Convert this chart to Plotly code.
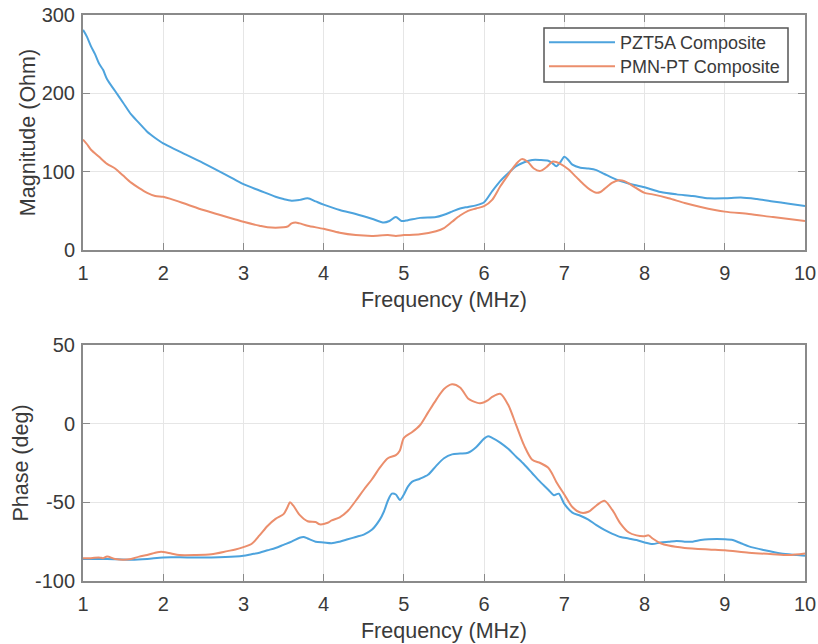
import plotly.graph_objects as go

# ---- Impedance magnitude (Ohm) ----
mag_pzt_f = [1.0, 1.05, 1.1, 1.15, 1.2, 1.25, 1.3, 1.4, 1.5, 1.6, 1.7, 1.8, 1.9, 2.0, 2.2, 2.5, 2.8,
             3.0, 3.2, 3.4, 3.5, 3.6, 3.7, 3.8, 3.9, 4.0, 4.2, 4.4, 4.6, 4.75, 4.82, 4.9, 4.97, 5.05,
             5.2, 5.4, 5.5, 5.6, 5.7, 5.8, 5.9, 6.0, 6.1, 6.2, 6.3, 6.4, 6.5, 6.6, 6.7, 6.8, 6.85,
             6.9, 6.95, 7.0, 7.05, 7.1, 7.2, 7.3, 7.4, 7.5, 7.6, 7.7, 7.8, 8.0, 8.2, 8.4, 8.6, 8.8,
             9.0, 9.2, 9.4, 9.6, 9.8, 10.0]
mag_pzt = [281, 272, 260, 250, 238, 230, 218, 203, 188, 173, 162, 151, 143, 136, 126, 111, 95,
           84, 76, 68, 65, 63, 64, 66, 62, 58, 51, 46, 40, 35, 37, 42, 37, 38,
           41, 42, 45, 49, 53, 55, 57, 61, 75, 88, 98, 107, 112, 115, 115, 114, 111,
           107, 112, 119, 115, 109, 105, 104, 102, 97, 92, 88, 85, 80, 74, 71, 69, 66,
           66, 67, 65, 62, 59, 56]

mag_pmn_f = [1.0, 1.05, 1.1, 1.2, 1.3, 1.4, 1.5, 1.6, 1.7, 1.8, 1.9, 2.0, 2.1, 2.3, 2.5, 2.7, 2.9,
             3.0, 3.2, 3.3, 3.5, 3.55, 3.6, 3.65, 3.7, 3.8, 4.0, 4.2, 4.4, 4.6, 4.8, 4.9, 5.0,
             5.2, 5.4, 5.5, 5.6, 5.7, 5.8, 5.9, 6.0, 6.1, 6.2, 6.3, 6.4, 6.47, 6.55, 6.62, 6.7,
             6.78, 6.86, 6.95, 7.05, 7.15, 7.25, 7.32, 7.4, 7.45, 7.5, 7.6, 7.68, 7.75, 7.85,
             8.0, 8.1, 8.3, 8.5, 8.7, 9.0, 9.3, 9.6, 10.0]
mag_pmn = [141, 135, 128, 119, 110, 104, 95, 86, 79, 73, 69, 68, 65, 58, 51, 45, 39,
           36, 31, 29, 29, 30, 34, 35, 34, 31, 27, 22, 19, 18, 19, 18, 19,
           20, 24, 28, 36, 44, 50, 53, 56, 64, 81, 96, 110, 116, 112, 104, 101,
           106, 113, 110, 103, 93, 83, 77, 73, 74, 78, 86, 89, 88, 82,
           73, 71, 66, 60, 55, 49, 46, 42, 37]

# ---- Impedance phase (deg) ----
ph_pzt_f = [1.0, 1.3, 1.6, 1.8, 2.0, 2.3, 2.6, 2.9, 3.0, 3.1, 3.2, 3.3, 3.4, 3.5, 3.6, 3.7, 3.75,
            3.8, 3.9, 4.0, 4.1, 4.2, 4.3, 4.4, 4.5, 4.6, 4.7, 4.75, 4.8, 4.85, 4.9, 4.95, 5.0,
            5.05, 5.1, 5.2, 5.3, 5.4, 5.5, 5.6, 5.7, 5.8, 5.9, 6.0, 6.05, 6.1, 6.2, 6.3, 6.4,
            6.5, 6.6, 6.7, 6.8, 6.87, 6.93, 7.0, 7.1, 7.2, 7.3, 7.4, 7.5, 7.6, 7.7, 7.8, 7.9,
            8.0, 8.1, 8.2, 8.3, 8.4, 8.5, 8.6, 8.7, 8.8, 9.0, 9.1, 9.2, 9.3, 9.5, 9.7, 9.9, 10.0]
ph_pzt = [-86, -86, -86.5, -86, -85, -85, -85, -84.5, -84, -83, -82, -80.5, -79, -77, -75, -72.5, -72,
          -73, -75, -75.5, -76, -75, -73.5, -72, -70.5, -67.5, -61, -56, -49, -44.5, -45, -48.5, -45,
          -40, -37, -35, -32.5, -27, -22, -19.5, -19, -18.5, -15, -9.5, -8, -9, -12, -16, -21,
          -26, -31.5, -37, -42, -45.5, -44.5, -51, -56.5, -58.5, -61, -64.5, -67.5, -70, -72, -73, -74,
          -75.5, -76.5, -75.5, -75, -74.5, -75, -75, -74, -73.5, -73.5, -74, -76, -78, -80.5, -82.5, -83.5, -84]

ph_pmn_f = [1.0, 1.1, 1.2, 1.25, 1.3, 1.4, 1.5, 1.6, 1.7, 1.8, 1.9, 1.95, 2.0, 2.1, 2.2, 2.4, 2.6,
            2.8, 2.9, 3.0, 3.1, 3.2, 3.3, 3.4, 3.5, 3.55, 3.58, 3.62, 3.7, 3.8, 3.9, 3.95, 4.05,
            4.1, 4.2, 4.3, 4.4, 4.5, 4.6, 4.7, 4.8, 4.9, 4.95, 5.0, 5.1, 5.2, 5.3, 5.4, 5.5,
            5.6, 5.7, 5.8, 5.85, 5.95, 6.05, 6.1, 6.2, 6.3, 6.4, 6.5, 6.6, 6.7, 6.8, 6.85, 6.9,
            7.0, 7.1, 7.2, 7.3, 7.4, 7.5, 7.6, 7.7, 7.8, 7.9, 8.0, 8.05, 8.1, 8.2, 8.3, 8.5,
            8.8, 9.0, 9.3, 9.6, 9.8, 10.0]
ph_pmn = [-85.5, -85.5, -85, -85.5, -84.5, -86, -86.5, -86, -84.5, -83.5, -82, -81.5, -81.5, -82.5, -83.5, -83.5, -83,
          -81, -80, -78.5, -76.5, -71, -65, -60.5, -57.5, -53, -50, -52, -58, -62, -62.5, -64, -63,
          -61.5, -59.5, -55.5, -49, -42, -35.5, -28, -22, -20, -17, -9, -5.5, -1, 7, 15, 22,
          25, 23, 16, 14.5, 13, 15, 17, 19, 12, -1, -14, -23, -25, -28, -32, -37,
          -45, -53, -56.5, -56, -52, -49, -55, -63.5, -69, -71, -71.5, -71, -73, -76, -77.5, -79,
          -80, -80.5, -82, -83, -83.5, -82.5]

# ---- Axis ticks ----
freq_ticks = [1, 2, 3, 4, 5, 6, 7, 8, 9, 10]
mag_ticks = [0, 100, 200, 300]
ph_ticks = [-100, -50, 0, 50]
ph_tick_text = ["-100", "-50", "0", "50"]

BLUE = "#4DA3DD"
ORANGE = "#EB8E6C"
AXIS = "#8A8A8A"
GRID = "#E6E6E6"
TEXT = "#3A3A3A"
FONT = "Liberation Sans"
W, H = 818, 644

fig = go.Figure()
line_kw = dict(mode="lines", line_shape="spline")
# Each material gets its own legend entry so the two rows can be spaced tightly inside one box
fig.add_trace(go.Scatter(x=mag_pzt_f, y=mag_pzt, name="PZT5A Composite", legend="legend",
                         line=dict(color=BLUE, width=2, smoothing=0.8), xaxis="x", yaxis="y", **line_kw))
fig.add_trace(go.Scatter(x=mag_pmn_f, y=mag_pmn, name="PMN-PT Composite", legend="legend2",
                         line=dict(color=ORANGE, width=2, smoothing=0.8), xaxis="x", yaxis="y", **line_kw))
fig.add_trace(go.Scatter(x=ph_pzt_f, y=ph_pzt, name="PZT5A Composite", showlegend=False,
                         line=dict(color=BLUE, width=2, smoothing=0.8), xaxis="x2", yaxis="y2", **line_kw))
fig.add_trace(go.Scatter(x=ph_pmn_f, y=ph_pmn, name="PMN-PT Composite", showlegend=False,
                         line=dict(color=ORANGE, width=2, smoothing=0.8), xaxis="x2", yaxis="y2", **line_kw))

axis_common = dict(
    showline=True, linecolor=AXIS, linewidth=2, mirror="allticks",
    ticks="inside", ticklen=7, tickcolor=AXIS, tickwidth=1,
    showgrid=True, gridcolor=GRID, gridwidth=1, zeroline=False, automargin=False,
    tickfont=dict(family=FONT, size=20, color=TEXT),
)
title_font = dict(family=FONT, size=21.5, color=TEXT)
x_common = dict(axis_common, range=[1, 10], tickvals=freq_ticks,
                title=dict(text="Frequency (MHz)", font=title_font, standoff=9),
                domain=[83 / W, 805 / W], ticklabelstandoff=4)

legend_common = dict(x=544 / W, xanchor="left", yanchor="top", bgcolor="rgba(0,0,0,0)",
                     borderwidth=0, font=dict(family=FONT, size=18, color=TEXT),
                     itemwidth=66, tracegroupgap=0)

fig.update_layout(
    width=W, height=H,
    margin=dict(l=0, r=0, t=0, b=0),
    paper_bgcolor="white", plot_bgcolor="white",
    font=dict(family=FONT, color=TEXT),
    xaxis=dict(x_common, anchor="y"),
    yaxis=dict(axis_common, range=[0, 300], tickvals=mag_ticks, anchor="x",
               domain=[1 - 250 / H, 1 - 15 / H], ticklabelstandoff=2,
               title=dict(text="Magnitude (Ohm)", font=title_font, standoff=0)),
    xaxis2=dict(x_common, anchor="y2"),
    yaxis2=dict(axis_common, range=[-100, 50], tickvals=ph_ticks, ticktext=ph_tick_text, anchor="x2",
                domain=[1 - 581 / H, 1 - 345 / H], ticklabelstandoff=2,
                title=dict(text="Phase (deg)", font=title_font, standoff=0)),
    legend=dict(legend_common, y=1 - 24 / H),
    legend2=dict(legend_common, y=1 - 48 / H),
    showlegend=True,
    # framed white box behind the two legend rows
    shapes=[dict(type="rect", xref="paper", yref="paper",
                 x0=544 / W, x1=788 / W, y0=1 - 82 / H, y1=1 - 28 / H,
                 fillcolor="white", line=dict(color="#555555", width=1.5), layer="above")],
)

fig.write_html("out.html")
